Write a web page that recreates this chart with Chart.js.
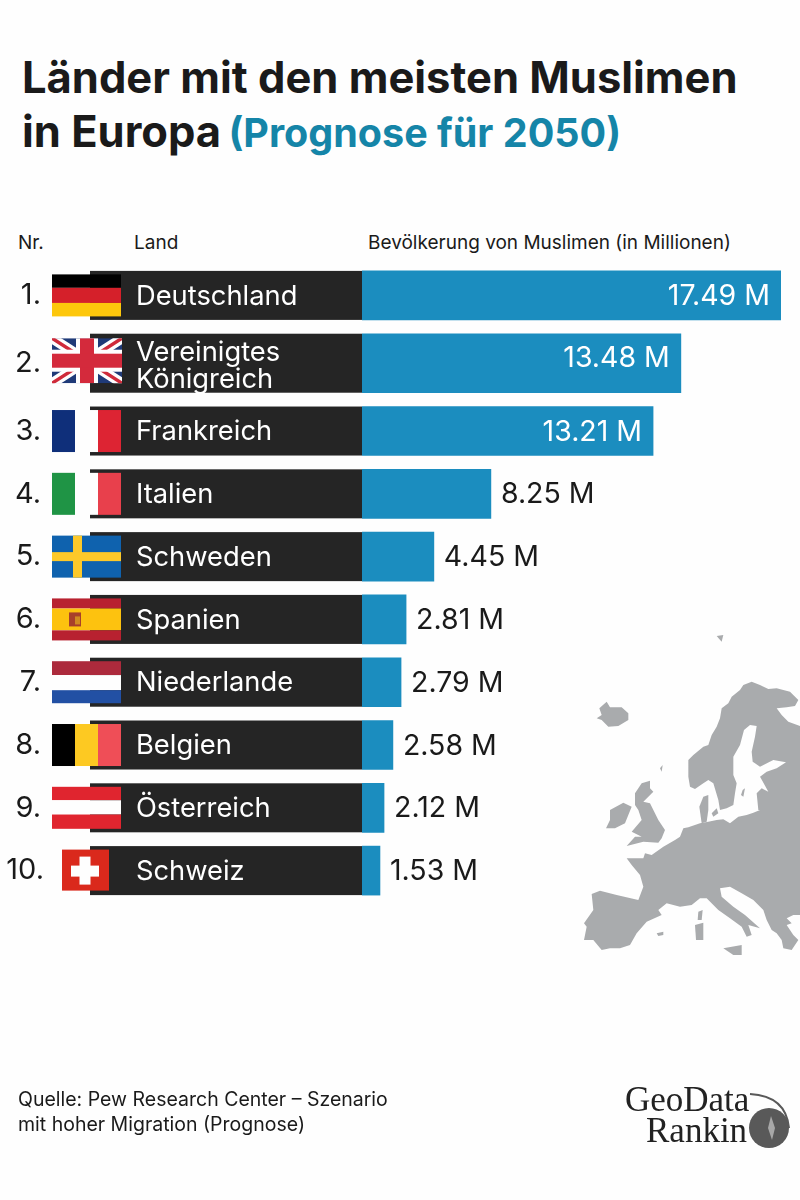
<!DOCTYPE html>
<html lang="de">
<head>
<meta charset="utf-8">
<title>Länder mit den meisten Muslimen in Europa</title>
<script src="https://cdn.jsdelivr.net/npm/chart.js"></script>
<style>
    html, body { margin: 0; padding: 0; background: #fefefe; }
    #page { position: relative; width: 800px; height: 1200px; overflow: hidden; font-family: Inter, sans-serif; color: #1a1a1a; }
    #page > * { position: absolute; margin: 0; }
    #chart { left: 0; top: 0; }
    h1 { left: 22px; top: 50px; font-size: 43.5px; line-height: 54px; font-weight: 700; white-space: nowrap; }
    h1 span { color: #1585a8; font-size: 39.5px; font-weight: 700; margin-left: -3px; }
    .head { top: 231px; font-size: 19px; line-height: 24px; white-space: nowrap; }
    #source { left: 18px; top: 1087px; font-size: 19.5px; line-height: 25px; white-space: nowrap; }
    #map { left: 560px; top: 620px; }
    #logo { left: 600px; top: 1070px; }
</style>
</head>
<body>
<div id="page">
    <h1>Länder mit den meisten Muslimen<br>in Europa <span>(Prognose für 2050)</span></h1>
    <div class="head" style="left:18px">Nr.</div>
    <div class="head" style="left:134px">Land</div>
    <div class="head" style="left:368px">Bevölkerung von Muslimen (in Millionen)</div>

    <svg id="map" width="240" height="360" viewBox="0 0 720 1080" fill="#a9abad">
        <path d="M485 265 505 250 515 230 540 210 550 195 575 185 600 195 625 207 650 205 690 215 715 240 705 258 680 262 650 265 665 285 685 305 720 318 720 885 700 885 680 895 695 910 680 915 700 945 715 960 695 990 670 985 665 960 650 940 635 930 620 900 610 870 580 840 545 820 510 800 480 805 485 830 520 860 555 885 600 925 565 915 575 945 560 950 545 920 510 895 475 870 440 835 420 835 395 855 360 860 320 850 295 870 305 885 260 905 230 940 210 975 180 985 150 985 125 990 100 960 72 960 80 920 72 910 100 870 95 822 120 812 170 825 235 840 250 800 240 765 215 735 200 715 250 715 255 700 275 705 310 680 345 660 360 650 370 625 385 622 420 610 445 605 470 600 490 598 510 610 535 590 560 585 580 578 600 570 595 570 590 520 605 505 625 515 600 470 620 455 650 445 678 427 640 420 600 440 578 425 575 395 585 350 590 318 570 315 552 330 540 375 520 410 520 465 530 490 525 520 520 555 500 565 480 570 475 540 460 490 445 480 430 490 405 507 390 500 385 470 385 420 400 405 430 380 445 375 455 345 470 320 480 295Z"/>
        <path d="M418 560 430 530 445 525 445 570 440 605 425 610Z"/>
        <path d="M455 580 470 565 475 580 460 590Z"/>
        <path d="M548 510 555 505 550 530 543 525Z"/>
        <path d="M110 295 125 285 118 265 140 245 150 262 185 262 205 280 205 300 175 318 145 320 125 300Z"/>
        <path d="M225 520 245 490 270 482 270 505 280 515 250 545 270 550 295 600 315 630 305 655 295 668 250 665 200 678 225 650 245 650 215 635 245 600 235 570 225 555Z"/>
        <path d="M150 570 190 548 215 560 205 585 195 610 165 625 138 625 150 600Z"/>
        <path d="M415 875 428 870 425 900 413 900Z"/>
        <path d="M405 915 430 908 430 960 408 960Z"/>
        <path d="M490 985 545 975 545 1005 520 1005Z"/>
        <path d="M290 940 310 935 310 945 295 948Z"/>
        <path d="M470 48 490 45 485 65Z"/>
        <path d="M300 445 308 435 305 455Z"/>
    </svg>

    <canvas id="chart" width="800" height="1200"></canvas>

    <div id="source">Quelle: Pew Research Center – Szenario<br>mit hoher Migration (Prognose)</div>

    <svg id="logo" width="200" height="100" viewBox="0 0 200 100">
        <text x="25" y="41" font-family="Liberation Serif" font-size="35" fill="#222">GeoData</text>
        <text x="46" y="72" font-family="Liberation Serif" font-size="35" fill="#222">Rankin</text>
        <circle cx="169" cy="58" r="20" fill="#595959"/>
        <path d="M150 24 Q186 26 189 58" fill="none" stroke="#595959" stroke-width="2"/>
        <path d="M171 46 175 58 172 70 168 58Z" fill="#a8a8a8"/>
    </svg>
</div>

<script>
// Data
const ranks = ["1.", "2.", "3.", "4.", "5.", "6.", "7.", "8.", "9.", "10."];
const countries = [["Deutschland"], ["Vereinigtes", "Königreich"], ["Frankreich"], ["Italien"], ["Schweden"],
    ["Spanien"], ["Niederlande"], ["Belgien"], ["Österreich"], ["Schweiz"]];
const flags = ["de", "uk", "fr", "it", "se", "es", "nl", "be", "at", "ch"];

// the values printed next to the bars
const values = [17.49, 13.48, 13.21, 8.25, 4.45, 2.81, 2.79, 2.58, 2.12, 1.53];

// the drawn bars are not proportional to the printed values in the original,
// so their lengths are read off separately (same unit as values)
const barLengths = [17.49, 13.31, 12.15, 5.38, 3.0, 1.84, 1.63, 1.29, 0.92, 0.75];

const BLUE = "#1b8dbf";
const DARK = "#252525";

/* Category scale where a row with a two line name gets a taller slot */
const rowWeights = countries.map(c => c.length > 1 ? 1.16 : 1);

class RowScale extends Chart.CategoryScale {
    getPixelForValue(value) {
        const i = typeof value === "number" ? value : this.parse(value);
        const total = rowWeights.reduce((a, b) => a + b, 0);
        let before = 0;
        for (let k = 0; k < i; k++) before += rowWeights[k];
        return this.top + (before + rowWeights[i] / 2) / total * this.height;
    }
}
RowScale.id = "rows";
RowScale.defaults = {};
Chart.register(RowScale);

/* Flags */
function bandsH(ctx, x, y, w, h, colors, stops) {
    colors.forEach((c, i) => {
        ctx.fillStyle = c;
        ctx.fillRect(x, y + h * stops[i], w, h * (stops[i + 1] - stops[i]));
    });
}

function bandsV(ctx, x, y, w, h, colors) {
    colors.forEach((c, i) => {
        ctx.fillStyle = c;
        ctx.fillRect(x + w * i / colors.length, y, w / colors.length, h);
    });
}

function drawFlag(ctx, name, cy) {
    const x = 52, w = 69, h = 42, y = cy - 21;
    if (name === "de") bandsH(ctx, x, y, w, h, ["#000", "#d5202a", "#fdc70c"], [0, 0.32, 0.68, 1]);
    if (name === "fr") bandsV(ctx, x, y, w, h, ["#0f2f7a", "#fefefe", "#dd2433"]);
    if (name === "it") bandsV(ctx, x, y, w, h, ["#1f9445", "#fefefe", "#e8404c"]);
    if (name === "be") bandsV(ctx, x, y, w, h, ["#000", "#fdc922", "#ef4e57"]);
    if (name === "nl") bandsH(ctx, x, y, w, h, ["#ac2a3c", "#fefefe", "#2250a4"], [0, 0.33, 0.69, 1]);
    if (name === "at") bandsH(ctx, x, y, w, h, ["#e0252f", "#fefefe", "#e0252f"], [0, 0.32, 0.66, 1]);
    if (name === "es") {
        bandsH(ctx, x, y, w, h, ["#b82130", "#fdc20f", "#b82130"], [0, 0.24, 0.76, 1]);
        ctx.fillStyle = "#a8402a";
        ctx.fillRect(x + 17, cy - 7, 12, 14);
        ctx.fillStyle = "#d08a20";
        ctx.fillRect(x + 23, cy - 3, 5, 8);
    }
    if (name === "se") {
        ctx.fillStyle = "#0f62ae";
        ctx.fillRect(x, y, w, h);
        ctx.fillStyle = "#fdc92a";
        ctx.fillRect(x + 21, y, 9, h);
        ctx.fillRect(x, cy - 4.5, w, 9);
    }
    if (name === "ch") {
        const cx = 85;
        ctx.fillStyle = "#da291c";
        ctx.fillRect(cx - 23, cy - 21, 47, 41);
        ctx.fillStyle = "#fefefe";
        ctx.fillRect(cx - 14, cy - 5, 28, 11);
        ctx.fillRect(cx - 5.5, cy - 14, 11, 28);
    }
    if (name === "uk") {
        const top = cy - 25, uh = 45;
        ctx.save();
        ctx.beginPath();
        ctx.rect(x, top, w + 1, uh);
        ctx.clip();
        ctx.fillStyle = "#1f3a78";
        ctx.fillRect(x, top, w + 1, uh);
        [[10, "#fefefe"], [3.5, "#cf2a3a"]].forEach(s => {
            ctx.strokeStyle = s[1];
            ctx.lineWidth = s[0];
            ctx.beginPath();
            ctx.moveTo(x, top);
            ctx.lineTo(x + w + 1, top + uh);
            ctx.moveTo(x + w + 1, top);
            ctx.lineTo(x, top + uh);
            ctx.stroke();
        });
        const mx = x + 35, my = top + 22.5;
        ctx.fillStyle = "#fefefe";
        ctx.fillRect(mx - 11, top, 22, uh);
        ctx.fillRect(x, my - 11, w + 1, 22);
        ctx.fillStyle = "#d42a3c";
        ctx.fillRect(mx - 7, top, 14, uh);
        ctx.fillRect(x, my - 7, w + 1, 14);
        ctx.restore();
    }
}

/* Dark name band, flag, rank and name for each row, then the value label */
const rowPlugin = {
    id: "rowPlugin",
    beforeDatasetsDraw(chart) {
        const ctx = chart.ctx, yScale = chart.scales.y;
        ctx.save();
        countries.forEach((name, i) => {
            const cy = yScale.getPixelForValue(i);
            const h = name.length > 1 ? 59 : 49;
            ctx.fillStyle = DARK;
            ctx.fillRect(90, cy - h / 2, chart.scales.x.getPixelForValue(0) - 90, h);
            drawFlag(ctx, flags[i], cy);
        });
        ctx.restore();
    },
    afterDatasetsDraw(chart) {
        const ctx = chart.ctx, xScale = chart.scales.x, yScale = chart.scales.y;
        ctx.save();
        ctx.textBaseline = "middle";
        countries.forEach((name, i) => {
            const cy = yScale.getPixelForValue(i);

            ctx.textAlign = "right";
            ctx.fillStyle = "#1a1a1a";
            ctx.font = "29px Inter";
            ctx.fillText(ranks[i], i === 9 ? 44 : 41, cy);

            ctx.textAlign = "left";
            ctx.fillStyle = "#fff";
            ctx.font = "27.3px Inter";
            name.forEach((line, k) => {
                ctx.fillText(line, 136, cy + (k - (name.length - 1) / 2) * 27 + (name.length > 1 ? 3 : 1));
            });

            const end = xScale.getPixelForValue(barLengths[i]);
            const text = values[i].toFixed(2) + " M";
            ctx.font = "28.5px Inter";
            if (barLengths[i] > 10) {
                ctx.textAlign = "right";
                ctx.fillStyle = "#fff";
                ctx.fillText(text, end - 11, cy + (name.length > 1 ? -5 : 1));
            } else {
                ctx.textAlign = "left";
                ctx.fillStyle = "#1a1a1a";
                ctx.fillText(text, end + 10, cy + 1);
            }
        });
        ctx.restore();
    }
};

new Chart(document.getElementById("chart"), {
    type: "bar",
    data: {
        labels: countries.map(c => c.join(" ")),
        datasets: [
            {
                data: barLengths.map((v, i) => countries[i].length > 1 ? null : v),
                backgroundColor: BLUE,
                barThickness: 49
            },
            {
                data: barLengths.map((v, i) => countries[i].length > 1 ? v : null),
                backgroundColor: BLUE,
                barThickness: 59
            }
        ]
    },
    options: {
        indexAxis: "y",
        responsive: false,
        animation: false,
        devicePixelRatio: 1,
        grouped: false,
        layout: { padding: { left: 362, right: 19, top: 264, bottom: 298 } },
        plugins: { legend: { display: false }, tooltip: { enabled: false } },
        scales: {
            x: { type: "linear", min: 0, max: values[0], display: false },
            y: { type: "rows", display: false, grid: { display: false } }
        }
    },
    plugins: [rowPlugin]
});
</script>
</body>
</html>
